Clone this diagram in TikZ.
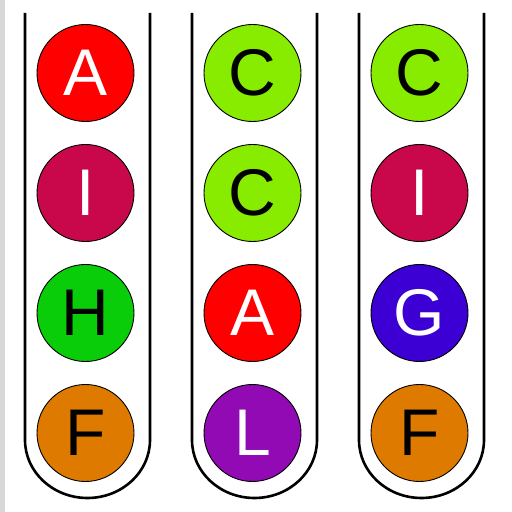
\documentclass[tikz,border=0pt]{standalone}
\usepackage{fontspec}
\setmainfont{Liberation Sans}
\definecolor{cRed}{RGB}{255,0,0}
\definecolor{cCrim}{RGB}{200,8,75}
\definecolor{cGreen}{RGB}{10,205,10}
\definecolor{cOrange}{RGB}{222,122,0}
\definecolor{cLime}{RGB}{136,236,0}
\definecolor{cPurple}{RGB}{145,10,180}
\definecolor{cBlue}{RGB}{60,0,212}
\definecolor{cStrip}{RGB}{216,216,216}
\tikzset{
  ball/.style={circle, draw=black, line width=0.9pt, minimum size=97pt, inner sep=0pt, font=\fontsize{66}{66}\selectfont},
  wtxt/.style={text=white},
  btxt/.style={text=black},
  tube/.style={draw=black, line width=2.6pt},
}
\begin{document}
\begin{tikzpicture}[x=1pt,y=1pt]
\useasboundingbox (0,0) rectangle (512,512);
\fill[white] (0,0) rectangle (512,512);
\fill[cStrip] (0,0) rectangle (5,512);
% tubes
\foreach \xl in {25,192,359}{
  \draw[tube] (\xl,499) -- (\xl,72) arc[start angle=180,end angle=360,x radius=62.5,y radius=58] -- ++(0,427);
}
% column 1
\node[ball, fill=cRed, wtxt] (a1) at (85.5,439) {A};
\node[ball, fill=cCrim, wtxt] (a2) at (85.5,319) {I};
\node[ball, fill=cGreen, btxt] (a3) at (85.5,199) {H};
\node[ball, fill=cOrange, btxt] (a4) at (85.5,79) {F};
% column 2
\node[ball, fill=cLime, btxt] (b1) at (252.5,439) {C};
\node[ball, fill=cLime, btxt] (b2) at (252.5,319) {C};
\node[ball, fill=cRed, wtxt] (b3) at (252.5,199) {A};
\node[ball, fill=cPurple, wtxt] (b4) at (252.5,79) {L};
% column 3
\node[ball, fill=cLime, btxt] (c1) at (419.5,439) {C};
\node[ball, fill=cCrim, wtxt] (c2) at (419.5,319) {I};
\node[ball, fill=cBlue, wtxt] (c3) at (419.5,199) {G};
\node[ball, fill=cOrange, btxt] (c4) at (419.5,79) {F};
\end{tikzpicture}
\end{document}
